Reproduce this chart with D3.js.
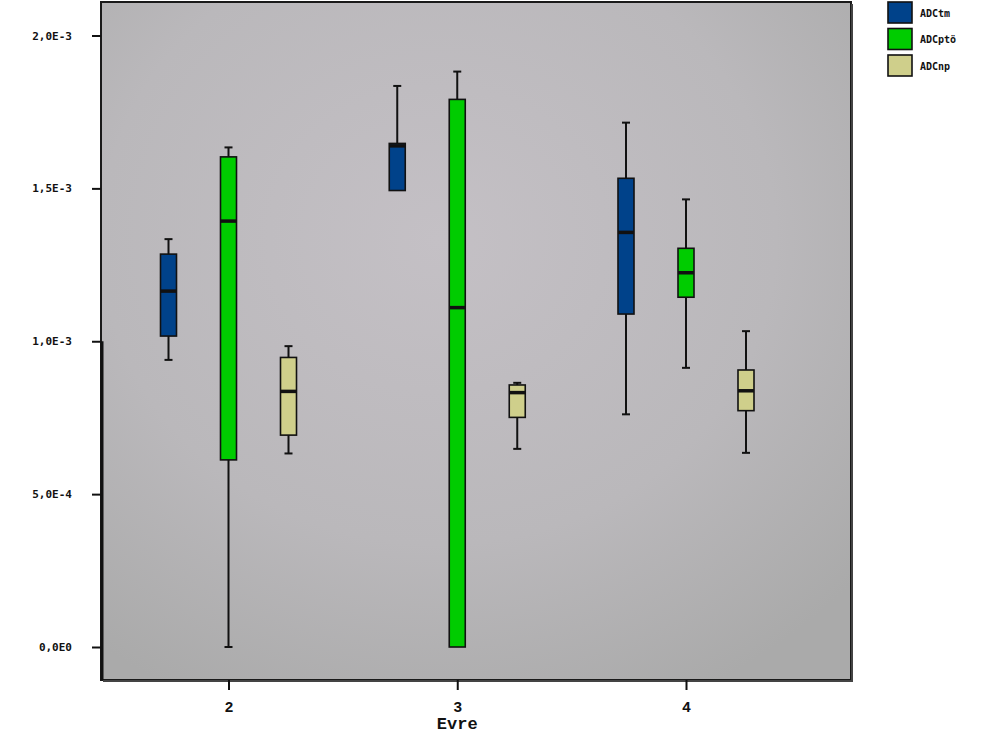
<!DOCTYPE html>
<html>
<head>
<meta charset="utf-8">
<script src="https://cdn.jsdelivr.net/npm/d3@7/dist/d3.min.js"></script>
<style>
  html, body { margin: 0; padding: 0; background: #ffffff; }
  svg text { font-weight: bold; fill: #111; }
</style>
</head>
<body>
<svg id="chart" width="990" height="738"></svg>
<script>
// Stage groups on the x axis
const categories = [2, 3, 4];
// Series drawn side by side in each group
const seriesNames = ["ADCtm", "ADCptö", "ADCnp"];
const seriesColors = ["#00428a", "#00cc00", "#cfcf8b"];
// Five-number summaries [min, Q1, median, Q3, max] per series, one entry per category
const ADCtm  = [[0.939e-3, 1.017e-3, 1.164e-3, 1.285e-3, 1.334e-3],
                [1.493e-3, 1.493e-3, 1.639e-3, 1.647e-3, 1.835e-3],
                [0.761e-3, 1.089e-3, 1.356e-3, 1.533e-3, 1.715e-3]];
const ADCpto = [[0.000e-3, 0.612e-3, 1.393e-3, 1.603e-3, 1.634e-3],
                [0.000e-3, 0.000e-3, 1.110e-3, 1.791e-3, 1.882e-3],
                [0.913e-3, 1.144e-3, 1.224e-3, 1.304e-3, 1.464e-3]];
const ADCnp  = [[0.633e-3, 0.693e-3, 0.836e-3, 0.947e-3, 0.984e-3],
                [0.648e-3, 0.751e-3, 0.832e-3, 0.857e-3, 0.864e-3],
                [0.635e-3, 0.773e-3, 0.838e-3, 0.906e-3, 1.033e-3]];
const seriesValues = [ADCtm, ADCpto, ADCnp];
// Y tick values and their labels
const yTicks = [0, 0.5e-3, 1.0e-3, 1.5e-3, 2.0e-3];
const yTickLabels = ["0,0E0", "5,0E-4", "1,0E-3", "1,5E-3", "2,0E-3"];
const xTitle = "Evre";

const sansMono = "'DejaVu Sans Mono', monospace";
const typeMono = "'Liberation Mono', 'Courier New', monospace";

const svg = d3.select("#chart");
const plot = { left: 101, right: 851, top: 2, bottom: 680 };

const x = d3.scaleLinear().domain([2, 4]).range([228.5, 686]);
const offset = d3.scaleBand().domain(seriesNames).range([-90, 90]);
const y = d3.scaleLinear().domain([0, 2.0e-3]).range([647, 35.5]);
const boxW = 16, capW = 8;

// Plot background with soft gradient
const defs = svg.append("defs");
const grad = defs.append("radialGradient").attr("id", "bg")
  .attr("cx", "45%").attr("cy", "35%").attr("r", "75%");
grad.append("stop").attr("offset", "0%").attr("stop-color", "#c4c0c5");
grad.append("stop").attr("offset", "60%").attr("stop-color", "#bab8bb");
grad.append("stop").attr("offset", "100%").attr("stop-color", "#aaaaaa");

svg.append("rect")
  .attr("x", plot.left).attr("y", plot.top)
  .attr("width", plot.right - plot.left).attr("height", plot.bottom - plot.top)
  .attr("fill", "url(#bg)");

// Boxes
seriesNames.forEach((name, si) => {
  const g = svg.append("g").attr("class", "series");
  categories.forEach((cat, ci) => {
    const [mn, q1, md, q3, mx] = seriesValues[si][ci];
    const cx = x(cat) + offset(name) + offset.bandwidth() / 2;
    const line = (x1, y1, x2, y2, w) => g.append("line")
      .attr("x1", x1).attr("y1", y1).attr("x2", x2).attr("y2", y2)
      .attr("stroke", "#111").attr("stroke-width", w);
    // whiskers
    if (mx > q3) { line(cx, y(mx), cx, y(q3), 2); line(cx - capW / 2, y(mx), cx + capW / 2, y(mx), 2); }
    if (mn < q1) { line(cx, y(q1), cx, y(mn), 2); line(cx - capW / 2, y(mn), cx + capW / 2, y(mn), 2); }
    // box
    g.append("rect")
      .attr("x", cx - boxW / 2).attr("y", y(q3))
      .attr("width", boxW).attr("height", Math.max(0.5, y(q1) - y(q3)))
      .attr("fill", seriesColors[si]).attr("stroke", "#111").attr("stroke-width", 1.6);
    // median
    line(cx - boxW / 2, y(md), cx + boxW / 2, y(md), 3.5);
  });
});

// Plot frame
svg.append("rect")
  .attr("x", plot.left).attr("y", plot.top)
  .attr("width", plot.right - plot.left).attr("height", plot.bottom - plot.top)
  .attr("fill", "none").attr("stroke", "#1a1a1a").attr("stroke-width", 2);
svg.append("path")
  .attr("d", `M${plot.left + 2},${plot.bottom + 1}H${plot.right + 1}V${plot.top + 2}`)
  .attr("fill", "none").attr("stroke", "#444").attr("stroke-width", 2);
svg.append("line")
  .attr("x1", plot.left + 1).attr("x2", plot.left + 1)
  .attr("y1", y(1.0e-3)).attr("y2", plot.bottom)
  .attr("stroke", "#111").attr("stroke-width", 3);

// Y axis
const yAxis = d3.axisLeft(y).tickValues(yTicks)
  .tickFormat((d, i) => yTickLabels[i]).tickSize(9).tickPadding(20);
const gy = svg.append("g").attr("transform", `translate(${plot.left},0)`).call(yAxis);
gy.select(".domain").remove();
gy.selectAll(".tick line").attr("stroke", "#111").attr("stroke-width", 2);
gy.selectAll(".tick text").style("font-size", "11px").style("font-family", sansMono);

// X axis
const xAxis = d3.axisBottom(x).tickValues(categories)
  .tickFormat(d3.format("d")).tickSize(10).tickPadding(11);
const gx = svg.append("g").attr("transform", `translate(0,${plot.bottom})`).call(xAxis);
gx.select(".domain").remove();
gx.selectAll(".tick line").attr("stroke", "#111").attr("stroke-width", 2);
gx.selectAll(".tick text").style("font-size", "15px").style("font-family", typeMono);

svg.append("text")
  .attr("x", x(3)).attr("y", 729)
  .attr("text-anchor", "middle")
  .style("font-size", "17px").style("font-family", typeMono)
  .text(xTitle);

// Legend
const legend = svg.append("g").attr("transform", "translate(888,2)");
seriesNames.forEach((name, i) => {
  const row = legend.append("g").attr("transform", `translate(0,${i * 26.5})`);
  row.append("rect").attr("width", 24).attr("height", 21)
    .attr("fill", seriesColors[i]).attr("stroke", "#111").attr("stroke-width", 1.6);
  row.append("text").attr("x", 32).attr("y", 14.5)
    .style("font-size", "10px").style("font-family", sansMono).text(name);
});
</script>
</body>
</html>
